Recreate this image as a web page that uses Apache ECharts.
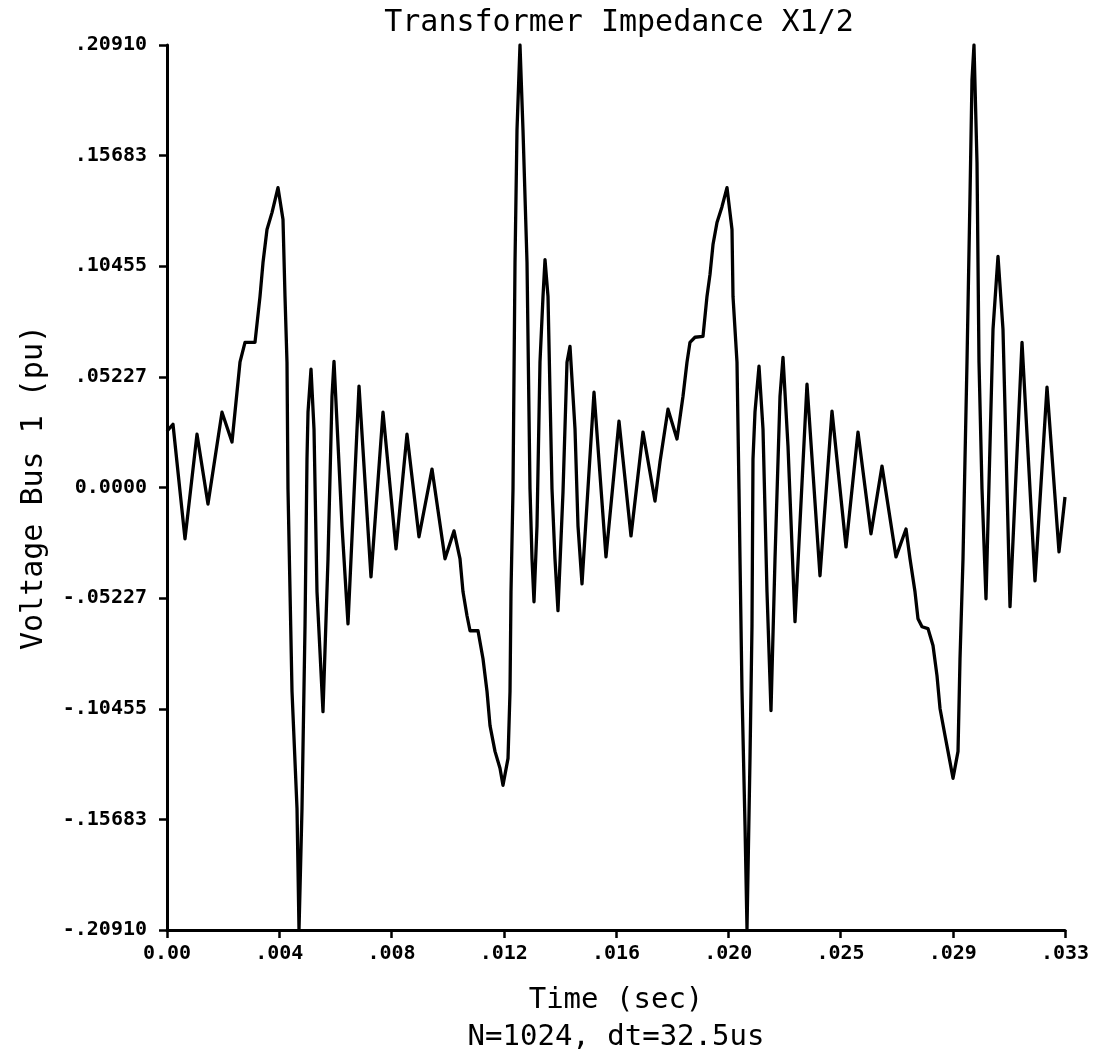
<!DOCTYPE html>
<html>
<head>
<meta charset="utf-8">
<script src="https://cdn.jsdelivr.net/npm/echarts@6/dist/echarts.min.js"></script>
<style>
html,body{margin:0;padding:0;background:#fff;}
#chart{width:1099px;height:1061px;}
</style>
</head>
<body>
<div id="chart"></div>
<script>
// Time in milliseconds
const timesMs = [
0.000,0.222,0.667,1.112,1.519,2.038,2.409,2.705,2.891,3.261,3.447,3.558,3.706,3.891,4.114,4.299,4.373,4.447,4.484,4.633,4.818,4.892,5.003,5.115,5.188,5.226,5.337,5.448,5.559,5.781,5.967,6.115,6.189,6.486,6.708,7.116,7.560,8.005,8.487,8.894,9.339,9.821,10.303,10.636,10.859,10.970,11.118,11.230,11.526,11.711,11.860,11.971,12.156,12.341,12.452,12.638,12.712,12.749,12.823,12.897,12.971,13.082,13.193,13.342,13.453,13.527,13.601,13.712,13.823,13.935,14.009,14.120,14.268,14.379,14.490,14.676,14.824,14.935,15.121,15.232,15.380,15.825,16.269,16.751,17.196,17.641,18.085,18.270,18.567,18.900,19.123,19.271,19.382,19.568,19.864,20.012,20.124,20.235,20.383,20.568,20.754,20.939,20.976,21.124,21.198,21.235,21.310,21.421,21.495,21.606,21.680,21.717,21.791,21.940,22.088,22.236,22.384,22.533,22.718,22.829,23.014,23.274,23.718,24.200,24.645,25.164,25.608,26.090,26.498,27.017,27.388,27.536,27.721,27.832,27.981,28.203,28.388,28.536,28.648,28.833,28.944,29.130,29.315,29.389,29.500,29.574,29.648,29.759,29.833,29.907,30.019,30.093,30.204,30.352,30.612,30.797,30.982,31.242,31.687,32.168,32.613,33.058,33.280
];
// Voltage Bus 1 (pu)
const voltage = [
0.0266,0.0299,-0.0243,0.0252,-0.0078,0.0356,0.0215,0.0592,0.0686,0.0686,0.0903,0.1063,0.1219,0.1299,0.1417,0.1266,0.0903,0.0592,-0.0007,-0.0964,-0.1516,-0.2091,-0.1516,-0.0653,0.0134,0.0356,0.0559,0.0276,-0.0493,-0.1059,-0.0337,0.0431,0.0596,-0.0182,-0.0644,0.0479,-0.0422,0.0356,-0.0290,0.0252,-0.0233,0.0087,-0.0337,-0.0205,-0.0337,-0.0493,-0.0606,-0.0677,-0.0677,-0.0809,-0.0964,-0.1125,-0.1247,-0.1327,-0.1407,-0.1280,-0.0964,-0.0493,-0.0007,0.1063,0.1690,0.2091,0.1690,0.1063,-0.0007,-0.0337,-0.0540,-0.0182,0.0592,0.0903,0.1077,0.0903,-0.0007,-0.0337,-0.0582,-0.0021,0.0592,0.0667,0.0276,-0.0182,-0.0455,0.0450,-0.0328,0.0314,-0.0229,0.0262,-0.0064,0.0120,0.0370,0.0229,0.0431,0.0592,0.0686,0.0710,0.0714,0.0903,0.1007,0.1148,0.1252,0.1327,0.1417,0.1219,0.0903,0.0592,-0.0007,-0.0337,-0.0964,-0.1596,-0.2085,-0.1280,-0.0653,0.0134,0.0356,0.0573,0.0276,-0.0493,-0.1054,-0.0337,0.0431,0.0615,0.0196,-0.0634,0.0488,-0.0417,0.0361,-0.0281,0.0262,-0.0219,0.0101,-0.0328,-0.0196,-0.0337,-0.0493,-0.0620,-0.0658,-0.0667,-0.0747,-0.0889,-0.1044,-0.1172,-0.1247,-0.1374,-0.1247,-0.0809,-0.0337,0.0134,0.0592,0.1374,0.1926,0.2091,0.1535,0.0592,-0.0007,-0.0526,0.0747,0.1092,0.0747,-0.0563,0.0686,-0.0441,0.0474,-0.0304,-0.0045
];
const xTickLabels = ['0.00', '.004', '.008', '.012', '.016', '.020', '.025', '.029', '.033'];
const yTickLabels = ['-.20910', '-.15683', '-.10455', '-.05227', '0.0000', '.05227', '.10455', '.15683', '.20910'];
const titleText = 'Transformer Impedance X1/2';
const xName = 'Time (sec)';
const xSubName = 'N=1024, dt=32.5us';
const yName = 'Voltage Bus 1 (pu)';

const X_MAX = 33.28, X_INT = 4.16;
const Y_MAX = 0.2091, Y_INT = 0.052275;

const chart = echarts.init(document.getElementById('chart'), null, {renderer: 'canvas'});
const mono = '"DejaVu Sans Mono", "Liberation Mono", monospace';
chart.setOption({
  backgroundColor: '#ffffff',
  animation: false,
  title: {
    text: titleText,
    left: 614,
    top: 3,
    textAlign: 'center',
    textStyle: {fontFamily: mono, fontSize: 30, fontWeight: 'normal', color: '#000'}
  },
  grid: {left: 167, right: 34, top: 45, bottom: 129, containLabel: false},
  xAxis: {
    type: 'value',
    min: 0, max: X_MAX, interval: X_INT,
    name: xName + '\n' + xSubName,
    nameLocation: 'middle',
    nameGap: 52,
    nameTextStyle: {fontFamily: mono, fontSize: 29, color: '#000', lineHeight: 37},
    axisLine: {show: true, onZero: false, lineStyle: {color: '#000', width: 3}},
    axisTick: {show: true, inside: false, length: 8, lineStyle: {color: '#000', width: 2.5}},
    axisLabel: {
      show: true, margin: 14, color: '#000', fontFamily: mono, fontSize: 20, fontWeight: 'bold',
      showMinLabel: true, showMaxLabel: true,
      formatter: function (v) { const i = Math.round(v / X_INT); return xTickLabels[i] !== undefined ? xTickLabels[i] : ''; }
    },
    splitLine: {show: false}
  },
  yAxis: {
    type: 'value',
    min: -Y_MAX, max: Y_MAX, interval: Y_INT,
    name: yName,
    nameLocation: 'middle',
    nameGap: 118,
    nameRotate: 90,
    nameTextStyle: {fontFamily: mono, fontSize: 30, color: '#000'},
    axisLine: {show: true, onZero: false, lineStyle: {color: '#000', width: 3}},
    axisTick: {show: true, inside: false, length: 8, lineStyle: {color: '#000', width: 2.5}},
    axisLabel: {
      show: true, margin: 20, color: '#000', fontFamily: mono, fontSize: 20, fontWeight: 'bold',
      showMinLabel: true, showMaxLabel: true,
      formatter: function (v) { const i = Math.round(v / Y_INT) + 4; return yTickLabels[i] !== undefined ? yTickLabels[i] : ''; }
    },
    splitLine: {show: false}
  },
  series: [{
    type: 'line',
    data: timesMs.map((t, i) => [t, voltage[i]]),
    showSymbol: false,
    symbol: 'none',
    clip: true,
    lineStyle: {color: '#000', width: 3.3, join: 'round'},
    smooth: false
  }]
});
</script>
</body>
</html>
